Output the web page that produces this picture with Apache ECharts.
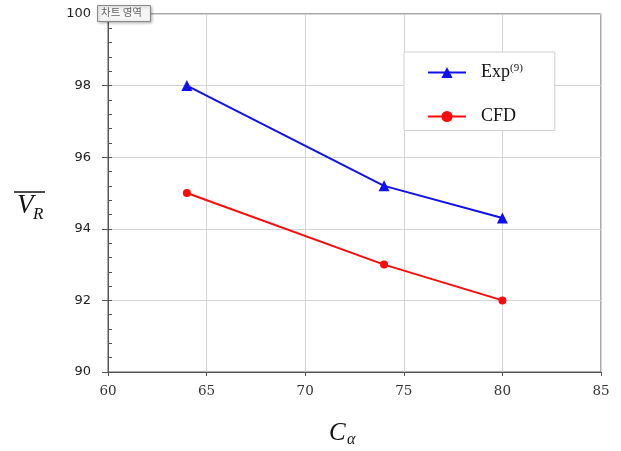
<!DOCTYPE html>
<html><head><meta charset="utf-8">
<script src="https://cdn.jsdelivr.net/npm/echarts@6/dist/echarts.min.js"></script>
<style>html,body{margin:0;padding:0;background:#fff}#c{width:621px;height:451px}</style>
</head><body><div id="c"></div>
<script>
const xValues = [64, 74, 80];
const expValues = [98, 95.2, 94.3];
const cfdValues = [95, 93, 92];
const xTicks = [60, 65, 70, 75, 80, 85];
const yTicks = [90, 92, 94, 96, 98, 100];
const seriesNames = ['Exp', 'CFD'];

const chart = echarts.init(document.getElementById('c'));
const pair = (xs, ys) => xs.map((x, i) => [x, ys[i]]);
chart.setOption({
  animation: false,
  grid: {left: 108, right: 20, top: 14, bottom: 79, show: true, borderColor: '#555', borderWidth: 1, backgroundColor: 'transparent'},
  xAxis: {
    type: 'value', min: xTicks[0], max: xTicks[xTicks.length-1], interval: 5,
    axisLine: {show: true, lineStyle: {color: '#555', width: 1}},
    axisTick: {show: true, length: 4, lineStyle: {color: '#555'}},
    axisLabel: {color: '#333', fontFamily: 'DejaVu Serif', fontSize: 13.5, margin: 12},
    splitLine: {show: true, lineStyle: {color: '#d4d4d4', width: 1}}
  },
  yAxis: [{
    type: 'value', min: yTicks[0], max: yTicks[yTicks.length-1], interval: 2,
    axisLine: {show: true, lineStyle: {color: '#555', width: 1}},
    axisTick: {show: true, length: 6, lineStyle: {color: '#555'}},
    axisLabel: {color: '#222', fontFamily: 'DejaVu Sans', fontSize: 13, margin: 17},
    splitLine: {show: true, lineStyle: {color: '#d4d4d4', width: 1}}
  }, {
    type: 'value', min: yTicks[0], max: yTicks[yTicks.length-1], interval: 0.4, position: 'left',
    axisLine: {show: false},
    axisTick: {show: true, inside: true, length: 4, lineStyle: {color: '#555'}},
    axisLabel: {show: false},
    splitLine: {show: false}
  }],
  legend: {
    orient: 'vertical', left: 404, top: 52,
    padding: [11, 32, 5, 23], itemGap: 26,
    itemWidth: 38, itemHeight: 14,
    backgroundColor: '#fff', borderColor: '#d0d0d0', borderWidth: 1,
    data: seriesNames,
    formatter: n => n === 'Exp' ? '{a|Exp}{s|(9)}' : '{a|CFD}',
    textStyle: {
      rich: {
        a: {fontFamily: 'Liberation Serif', fontSize: 18, color: '#111', padding: [0, 0, 0, 10]},
        s: {fontFamily: 'Liberation Serif', fontSize: 11, color: '#111', verticalAlign: 'top', padding: [0, 0, 8, 0]}
      }
    }
  },
  series: [{
    name: 'Exp', type: 'line', data: pair(xValues, expValues),
    symbol: 'triangle', symbolSize: 11, color: '#1010f0',
    lineStyle: {width: 2, color: '#1010f0'}, itemStyle: {color: '#1010f0'}
  }, {
    name: 'CFD', type: 'line', data: pair(xValues, cfdValues),
    symbol: 'circle', symbolSize: 8, color: '#ff0a0a',
    lineStyle: {width: 2, color: '#ff0a0a'}, itemStyle: {color: '#ff0a0a'}
  }],
  graphic: [
    {type: 'rect', left: 97, top: 5, shape: {width: 53, height: 16},
     style: {fill: '#f6f6f6', stroke: '#8a8a8a', lineWidth: 1, shadowBlur: 3, shadowOffsetX: 1, shadowOffsetY: 1, shadowColor: 'rgba(0,0,0,0.3)'}, z: 100},
    {type: 'text', left: 101, top: 7, style: {text: '차트 영역', font: '10.5px "Noto Sans CJK KR"', fill: '#666'}, z: 101},
    {type: 'line', shape: {x1: 14, y1: 192, x2: 45, y2: 192}, style: {stroke: '#111', lineWidth: 1.5}},
    {type: 'text', left: 17, top: 192, style: {text: 'V', font: 'italic 27px "Liberation Serif"', fill: '#111'}},
    {type: 'text', left: 33, top: 206, style: {text: 'R', font: 'italic 17px "Liberation Serif"', fill: '#111'}},
    {type: 'text', left: 329, top: 421, style: {text: 'C', font: 'italic 25px "Liberation Serif"', fill: '#111'}},
    {type: 'text', left: 347, top: 432, style: {text: 'α', font: 'italic 16px "Liberation Serif"', fill: '#111'}}
  ]
});
</script></body></html>
